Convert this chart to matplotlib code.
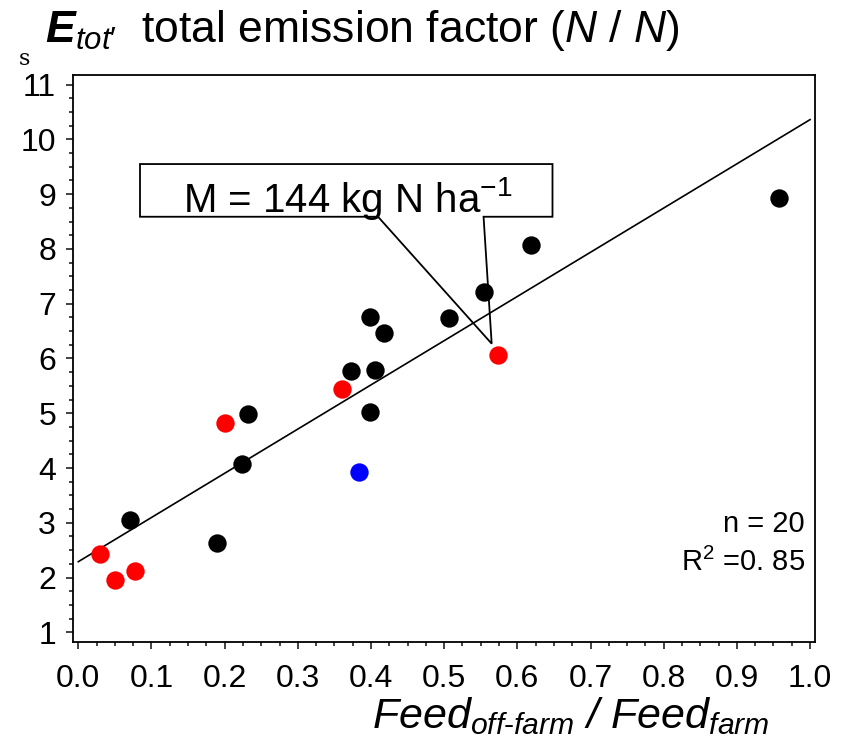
import matplotlib
matplotlib.use("Agg")
import matplotlib.pyplot as plt
from matplotlib.patches import Polygon
import numpy as np

# ---- data ----
black_x = [0.071, 0.190, 0.224, 0.232, 0.372, 0.405, 0.398, 0.418, 0.399, 0.506, 0.554, 0.618, 0.958]
black_y = [3.05, 2.64, 4.08, 4.98, 5.77, 5.79, 6.75, 6.47, 5.02, 6.74, 7.22, 8.07, 8.93]
red_x = [0.030, 0.050, 0.077, 0.201, 0.360, 0.573]
red_y = [2.43, 1.96, 2.12, 4.82, 5.45, 6.06]
blue_x = [0.383]
blue_y = [3.93]
fit_x = [0.0, 1.0]
fit_y = [2.29, 10.36]
x_ticks = [0.0, 0.1, 0.2, 0.3, 0.4, 0.5, 0.6, 0.7, 0.8, 0.9, 1.0]
y_ticks = [1, 2, 3, 4, 5, 6, 7, 8, 9, 10, 11]

FONT = "Liberation Sans"
plt.rcParams["mathtext.fontset"] = "custom"
plt.rcParams["mathtext.rm"] = "Liberation Sans"
plt.rcParams["mathtext.it"] = "Liberation Sans:italic"
plt.rcParams["mathtext.bf"] = "Liberation Sans:bold:italic"
plt.rcParams["mathtext.sf"] = "Liberation Sans"
plt.rcParams["font.family"] = [FONT, "DejaVu Sans"]

fig = plt.figure(figsize=(8.44, 7.47), dpi=100)
ax = fig.add_axes([0.0861, 0.141, 0.8796, 0.759])

ax.plot(fit_x, fit_y, color="black", lw=1.2, zorder=2)
ms = 175
ax.scatter(black_x, black_y, s=ms, color="black", zorder=3, linewidths=0)
ax.scatter(red_x, red_y, s=ms, color="#ff0000", zorder=3, linewidths=0)
ax.scatter(blue_x, blue_y, s=ms, color="#0000ff", zorder=3, linewidths=0)

ax.set_xlim(-0.0077, 1.0068)
ax.set_ylim(0.83, 11.18)
ax.set_xticks(x_ticks)
ax.set_xticklabels([f"{v:.1f}" for v in x_ticks])
ax.set_yticks(y_ticks)
ax.set_yticklabels([str(v) for v in y_ticks])
ax.set_xticks(np.arange(0, 1.0001, 0.025), minor=True)
ax.set_yticks(np.arange(1, 11.001, 0.25), minor=True)
ax.tick_params(which="major", direction="out", length=5, width=1.2, labelsize=23, color="#222222")
ax.tick_params(which="minor", direction="out", length=3, width=1.2, color="#222222")
ax.tick_params(axis="x", which="major", pad=11)
ax.tick_params(axis="y", which="major", pad=7)
for sp in ax.spines.values():
    sp.set_linewidth(1.3)

# callout
bx0, bx1, by0, by1 = 0.0843, 0.648, 8.587, 9.549
wl, wr, tip = 0.4096, 0.5538, (0.5649, 6.27)
poly = Polygon([(wl, by0), tip, (wr, by0), (bx1, by0), (bx1, by1), (bx0, by1), (bx0, by0)],
               closed=True, facecolor="none", edgecolor="black", lw=1.3, zorder=4)
ax.add_patch(poly)
ax.text(0.1434, 8.678, r"M = 144 kg N ha$^{-1}$", fontsize=29, family=FONT,
        ha="left", va="baseline", zorder=5)

ax.text(0.993, 2.825, "n = 20", fontsize=21, family=FONT, ha="right", va="baseline")
ax.text(0.993, 2.124, "R$^{2}$ =0. 85", fontsize=21, family=FONT, ha="right", va="baseline")

# title and x label
fig.text(45 / 844, (747 - 42) / 747,
         r"$\mathbf{E}_{\mathit{tot\prime}}$  total emission factor ($\mathit{N}$ / $\mathit{N}$)",
         fontsize=32, family=FONT, ha="left", va="baseline")
fig.text(770 / 844, (747 - 728) / 747,
         r"$\mathit{Feed}_{\mathit{off‐farm}}$ / $\mathit{Feed}_{\mathit{farm}}$",
         fontsize=31, family=FONT, style="italic", ha="right", va="baseline")
fig.text(19 / 844, (747 - 65) / 747, "s", fontsize=16, family="DejaVu Serif", ha="left", va="baseline")

fig.savefig("out.png", dpi=100)
